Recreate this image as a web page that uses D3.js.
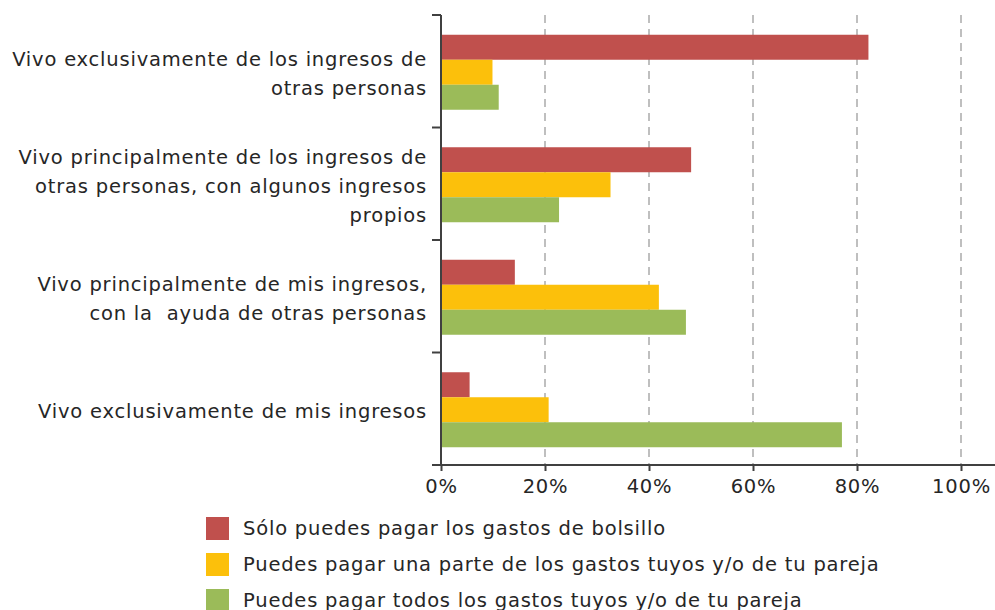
<!DOCTYPE html>
<html>
<head>
<meta charset="utf-8">
<script src="https://cdn.jsdelivr.net/npm/d3@7"></script>
<style>
  body { margin: 0; background: #fff; }
  svg { display: block; font-family: "DejaVu Sans", sans-serif; }
</style>
</head>
<body>
<svg width="995" height="610"></svg>
<script>
const categories = [
  ["Vivo exclusivamente de los ingresos de", "otras personas"],
  ["Vivo principalmente de los ingresos de", "otras personas, con algunos ingresos", "propios"],
  ["Vivo principalmente de mis ingresos,", "con la  ayuda de otras personas"],
  ["Vivo exclusivamente de mis ingresos"]
];
const seriesNames = [
  "Sólo puedes pagar los gastos de bolsillo",
  "Puedes pagar una parte de los gastos tuyos y/o de tu pareja",
  "Puedes pagar todos los gastos tuyos y/o de tu pareja"
];
const seriesColors = ["#c0504d", "#fcc00b", "#9bbb59"];
const soloBolsillo = [82.2, 48.1, 14.2, 5.5];
const parteGastos = [9.9, 32.6, 41.9, 20.7];
const todosGastos = [11.1, 22.7, 47.1, 77.1];
const seriesValues = [soloBolsillo, parteGastos, todosGastos];
const xTicks = [0, 20, 40, 60, 80, 100];

const svg = d3.select("svg");
const plotLeft = 441, plotRight = 961, plotTop = 15, plotBottom = 465;
const fontSize = 19.5;
const spacing = "0.8px";

const x = d3.scaleLinear().domain([0, 100]).range([plotLeft, plotRight]);
const y = d3.scaleBand().domain(d3.range(categories.length)).range([plotTop, plotBottom]);
const inner = d3.scaleBand().domain(d3.range(seriesNames.length))
  .range([1, y.bandwidth() + 1]).paddingOuter(0.75);

// dashed gridlines
svg.append("g")
  .selectAll("line")
  .data(xTicks.filter(d => d > 0))
  .enter()
  .append("line")
  .attr("x1", d => x(d))
  .attr("x2", d => x(d))
  .attr("y1", plotTop)
  .attr("y2", plotBottom)
  .attr("stroke", "#bfbfbf")
  .attr("stroke-width", 2)
  .attr("stroke-dasharray", "8,6");

// bars
const groups = svg.append("g")
  .selectAll("g")
  .data(categories.map((c, i) => i))
  .enter()
  .append("g")
  .attr("transform", i => `translate(0,${y(i)})`);

groups.selectAll("rect")
  .data(i => seriesValues.map((s, k) => ({ k, v: s[i] })))
  .enter()
  .append("rect")
  .attr("x", x(0))
  .attr("y", d => inner(d.k))
  .attr("width", d => x(d.v) - x(0))
  .attr("height", inner.bandwidth())
  .attr("fill", d => seriesColors[d.k]);

// y axis line + ticks at category boundaries
const yAxis = svg.append("g");
yAxis.append("line")
  .attr("x1", plotLeft).attr("x2", plotLeft)
  .attr("y1", plotTop).attr("y2", plotBottom)
  .attr("stroke", "#404040").attr("stroke-width", 2);
yAxis.selectAll("line.tick")
  .data(d3.range(categories.length + 1))
  .enter()
  .append("line")
  .attr("class", "tick")
  .attr("x1", plotLeft - 9).attr("x2", plotLeft)
  .attr("y1", i => i < categories.length ? y(i) : plotBottom)
  .attr("y2", i => i < categories.length ? y(i) : plotBottom)
  .attr("stroke", "#404040").attr("stroke-width", 2);

// category labels
const lineH = 29;
svg.append("g")
  .selectAll("text")
  .data(categories)
  .enter()
  .append("text")
  .attr("text-anchor", "end")
  .attr("font-size", fontSize)
  .attr("letter-spacing", spacing)
  .attr("fill", "#262626")
  .attr("transform", (c, i) => `translate(427,${y(i) + y.bandwidth() / 2 - (c.length - 1) * lineH / 2 + 9.5})`)
  .selectAll("tspan")
  .data(c => c)
  .enter()
  .append("tspan")
  .attr("x", 0)
  .attr("y", (d, j) => j * lineH)
  .style("white-space", "pre")
  .text(d => d);

// x axis
const xAxis = svg.append("g")
  .attr("transform", `translate(0,${plotBottom})`)
  .call(d3.axisBottom(x).tickValues(xTicks).tickFormat(d => d + "%").tickSize(6).tickSizeOuter(0));
xAxis.select(".domain").attr("stroke", "#404040").attr("stroke-width", 2)
  .attr("d", `M${plotLeft - 9},0H${plotRight + 34}`);
xAxis.selectAll(".tick line").attr("stroke", "#404040").attr("stroke-width", 2);
xAxis.selectAll(".tick text")
  .attr("font-size", fontSize)
  .attr("letter-spacing", spacing)
  .attr("font-family", "DejaVu Sans, sans-serif")
  .attr("fill", "#262626")
  .attr("dy", "0.95em");

// legend
const legend = svg.append("g")
  .selectAll("g")
  .data(seriesNames)
  .enter()
  .append("g")
  .attr("transform", (d, i) => `translate(206,${517 + i * 36})`);
legend.append("rect")
  .attr("width", 23).attr("height", 23)
  .attr("fill", (d, i) => seriesColors[i]);
legend.append("text")
  .attr("x", 37).attr("y", 18)
  .attr("font-size", fontSize)
  .attr("letter-spacing", spacing)
  .attr("fill", "#262626")
  .text(d => d);
</script>
</body>
</html>
